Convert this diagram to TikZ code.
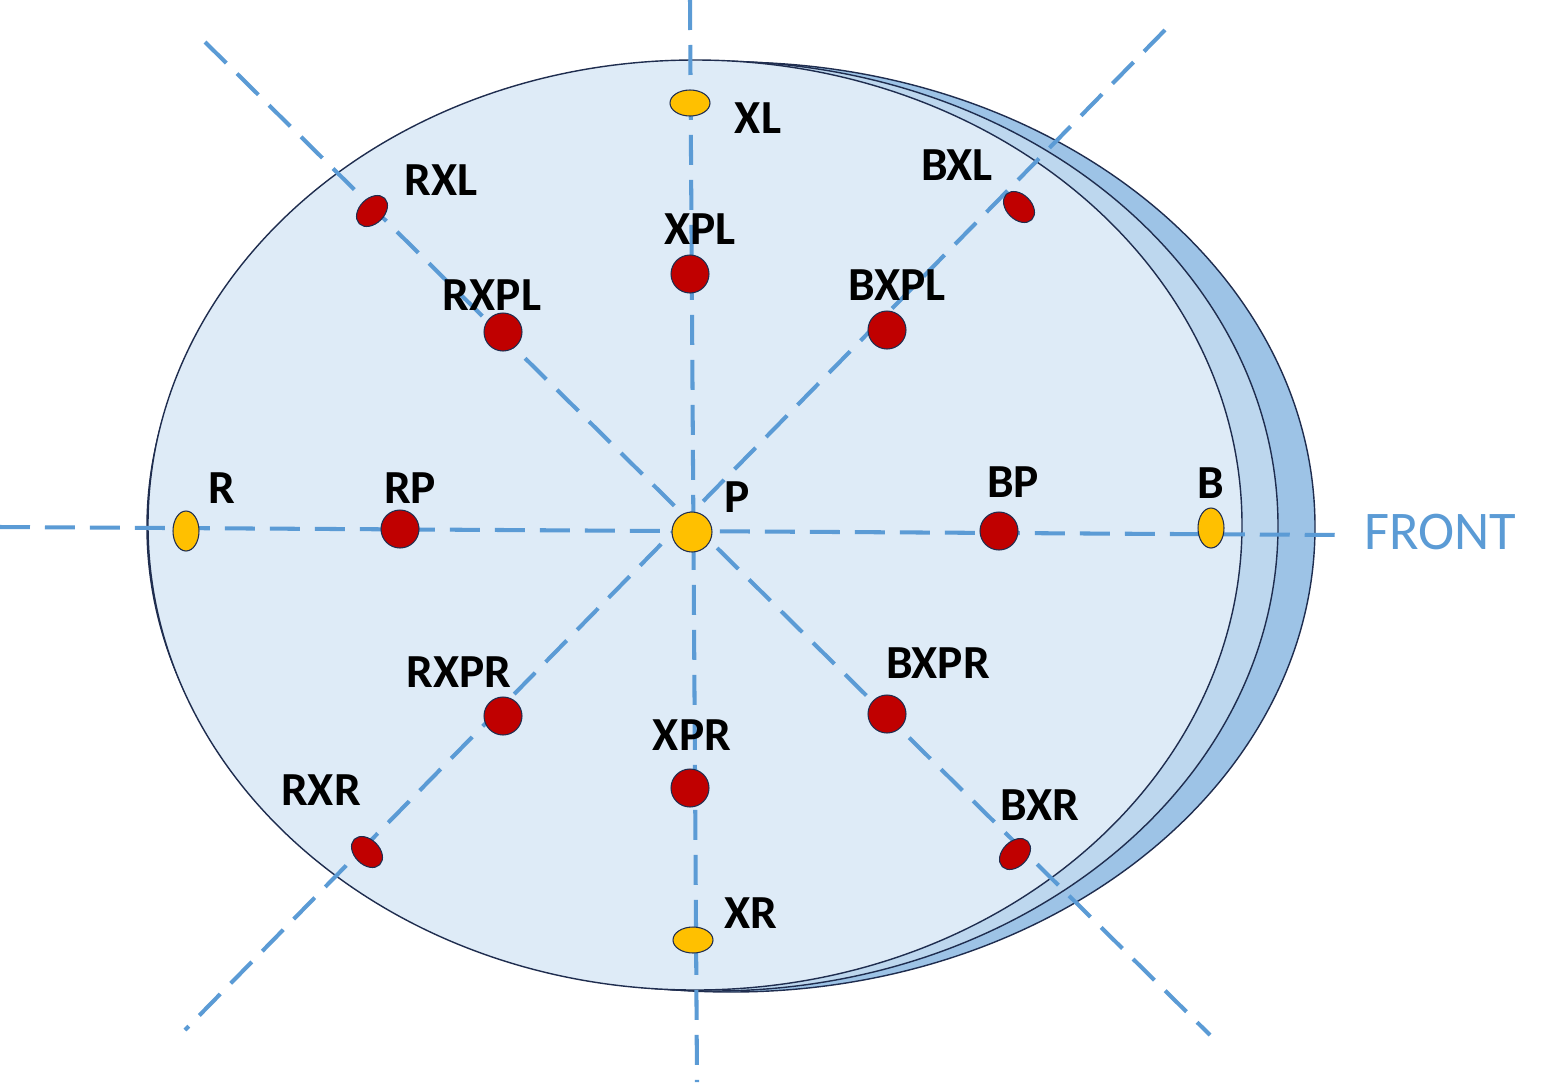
\documentclass[tikz,border=0pt]{standalone}
\usepackage{fontspec}
\setmainfont{Carlito}
\usetikzlibrary{shapes.geometric}
\definecolor{ln}{HTML}{5B9BD5}
\definecolor{ol}{HTML}{1F2D4F}
\definecolor{rd}{HTML}{C00000}
\definecolor{yl}{HTML}{FFC000}
\begin{document}
\begin{tikzpicture}[x=0.02cm,y=-0.02cm,
  axis/.style={draw=ln,line width=2.3pt,dash pattern=on 0.6cm off 0.3cm},
  disc/.style={draw=ol,line width=0.6pt,fill=#1},
  dot/.style={circle,disc=rd,minimum size=0.76cm,inner sep=0},
  edot/.style={ellipse,disc=rd,minimum width=0.72cm,minimum height=0.5cm,inner sep=0},
  ydot/.style={ellipse,disc=yl,inner sep=0},
  lab/.style={font=\bfseries\fontsize{27}{30}\selectfont,inner sep=0}]
\useasboundingbox (0,0) rectangle (1555,1086);
\fill[white] (0,0) rectangle (1555,1086);
\filldraw[fill=ln!60,draw=ol,line width=0.8pt] (731,527) ellipse [x radius=584,y radius=465];
\filldraw[fill=ln!40,draw=ol,line width=0.8pt] (713,526) ellipse [x radius=565,y radius=465];
\filldraw[fill=ln!20,draw=ol,line width=0.8pt] (695,525) ellipse [x radius=547,y radius=465];
\coordinate (vt) at (690,0); \coordinate (vb) at (697,1082);
\coordinate (hl) at (0,527); \coordinate (hr) at (1340,535);
\coordinate (d1a) at (205,42); \coordinate (d1b) at (1210,1035);
\coordinate (d2a) at (1165,30); \coordinate (d2b) at (185,1030);
\draw[axis] (vt) -- (vb);
\draw[axis] (hl) -- (hr);
\draw[axis] (d1a) -- (d1b);
\draw[axis] (d2a) -- (d2b);
\node[text=ln,font=\fontsize{31}{34}\selectfont,inner sep=0] (front) at (1440,532) {FRONT};
\node[dot] (xpl) at (690,274) {};
\node[dot] (rxpl) at (503,332) {};
\node[dot] (bxpl) at (887,330) {};
\node[dot] (rp) at (400,529) {};
\node[dot] (bp) at (999,531) {};
\node[dot] (rxpr) at (503,716) {};
\node[dot] (xpr) at (690,788) {};
\node[dot] (bxpr) at (887,714) {};
\node[edot,rotate=45] (rxl) at (372,211) {};
\node[edot,rotate=-45] (bxl) at (1019,207) {};
\node[edot,rotate=-45] (rxr) at (367,852) {};
\node[edot,rotate=45] (bxr) at (1015,854) {};
\node[ydot,circle,minimum size=0.8cm] (p) at (692,532) {};
\node[ydot,minimum width=0.8cm,minimum height=0.52cm] (xl) at (690,103) {};
\node[ydot,minimum width=0.8cm,minimum height=0.52cm] (xr) at (693,940) {};
\node[ydot,minimum width=0.52cm,minimum height=0.8cm] (r) at (186,531) {};
\node[ydot,minimum width=0.52cm,minimum height=0.8cm] (b) at (1211,528) {};
\node[lab] (lxl) at (758,118) {XL};
\node[lab] (lrxl) at (441,180) {RXL};
\node[lab] (lbxl) at (957,165) {BXL};
\node[lab] (lxpl) at (700,229) {XPL};
\node[lab] (lrxpl) at (492,295) {RXPL};
\node[lab] (lbxpl) at (897,285) {BXPL};
\node[lab] (lr) at (222,488) {R};
\node[lab] (lrp) at (410,488) {RP};
\node[lab] (lp) at (737,497) {P};
\node[lab] (lbp) at (1013,482) {BP};
\node[lab] (lb) at (1211,483) {B};
\node[lab] (lrxpr) at (459,672) {RXPR};
\node[lab] (lbxpr) at (938,663) {BXPR};
\node[lab] (lxpr) at (692,735) {XPR};
\node[lab] (lrxr) at (321,790) {RXR};
\node[lab] (lbxr) at (1040,805) {BXR};
\node[lab] (lxr) at (751,913) {XR};
\end{tikzpicture}
\end{document}
